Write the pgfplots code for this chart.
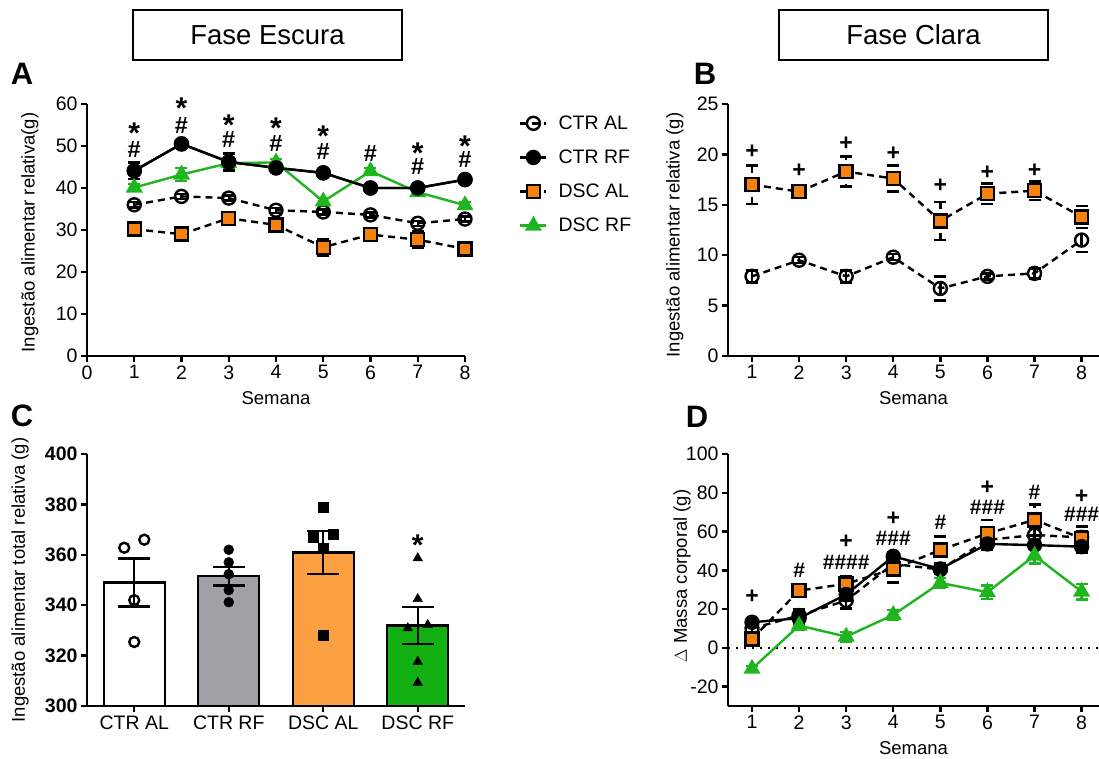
\documentclass[border=0pt]{standalone}
\usepackage{fontspec}
\setmainfont{Liberation Sans}
\usepackage{pgfplots}
\usepackage{pgfplotstable}
\pgfplotsset{compat=1.18}
\definecolor{myorange}{HTML}{F5820F}
\definecolor{barorange}{HTML}{FAA040}
\definecolor{mygreen}{HTML}{1FB51F}
\definecolor{bargreen}{HTML}{12B012}
\definecolor{bargray}{HTML}{A1A1A5}

\pgfplotstableread{
x ctral ctrale ctrrf ctrrfe dscal dscale dscrf dscrfe
1 36.0 0.6 44.1 2.0 30.2 0.8 40.1 0.8
2 38.0 0.6 50.5 0.8 29.0 0.8 43.2 1.5
3 37.6 0.6 46.2 2.0 32.8 1.5 45.9 1.2
4 34.7 0.6 44.8 0.8 31.2 1.2 46.1 0.8
5 34.3 0.6 43.6 0.8 25.9 2.0 36.8 0.8
6 33.6 0.6 40.0 0.8 28.9 0.8 44.0 0.8
7 31.6 0.6 40.0 0.8 27.7 2.0 39.0 0.8
8 32.6 0.6 42.0 0.8 25.5 0.8 35.9 0.8
}\tableA

\pgfplotstableread{
x ctral ctrale dscal dscale
1 7.9 0.6 17.0 1.9
2 9.5 0.3 16.3 0.4
3 7.9 0.6 18.3 1.5
4 9.8 0.3 17.6 1.3
5 6.7 1.2 13.4 1.9
6 7.9 0.3 16.1 1.0
7 8.2 0.5 16.4 0.9
8 11.5 1.2 13.8 1.1
}\tableB

\pgfplotstableread{
x ctral ctrale ctrrf ctrrfe dscal dscale dscrf dscrfe
1 10.0 2 13.2 2 4.6 3 -10.8 1.5
2 16.7 3 15.3 3 29.5 2 11.5 2
3 24.4 4 27.5 3 33.0 4 5.8 2.5
4 43.3 4 47.2 2 40.7 7 17.0 2.5
5 40.4 2 40.7 2 50.5 7 33.5 2.5
6 55.7 3 53.6 3 59.0 7 28.7 3.5
7 58.2 3 53.0 2 66.0 8 47.6 4
8 57.0 3 52.2 3 56.5 6 29.0 4
}\tableD

\newcommand{\st}{\raisebox{-0.43em}[0.29em][0pt]{*}}
\tikzset{
  ann/.style={font=\bfseries\fontsize{21}{24}\selectfont,anchor=center,inner sep=0pt},
  hashA/.style={font=\bfseries\fontsize{23.5}{24}\selectfont,anchor=center,inner sep=0pt},
  pls/.style={font=\bfseries\fontsize{23}{24}\selectfont,anchor=center,inner sep=0pt},
  star/.style={font=\bfseries\fontsize{30}{32}\selectfont,anchor=center,inner sep=0pt},
}
\pgfplotsset{
  base/.style={
    scale only axis,
    axis lines=left,
    axis line style={line width=2.4pt,-},
    tick align=outside,
    major tick length=6pt,
    every tick/.style={line width=2.4pt,black},
    tick label style={font=\fontsize{19.5}{22}\selectfont},
    label style={font=\fontsize{18.5}{22}\selectfont},
    /pgf/number format/assume math mode=true,
    clip=false,
    minor tick num=0,
  },
  eb/.style={error bars/.cd, y dir=both, y explicit,
    error bar style={line width=2.4pt,#1},
    error mark options={rotate=90,mark size=6pt,line width=2.4pt,#1}},
  ctral/.style={black,line width=2.4pt,dash pattern=on 7pt off 5pt,mark=o,mark size=6.5pt,mark options={solid,fill=white,line width=2.4pt}},
  ctrrf/.style={black,line width=2.4pt,mark=*,mark size=6.5pt,mark options={solid,fill=black}},
  dscal/.style={black,line width=2.4pt,dash pattern=on 7pt off 5pt,mark=square*,mark size=6.5pt,mark options={solid,fill=myorange,draw=black,line width=2.4pt}},
  dscrf/.style={mygreen,line width=2.4pt,mark=triangle*,mark size=7.5pt,mark options={solid,fill=mygreen,draw=mygreen}},
}

\begin{document}
\begin{tikzpicture}[x=1pt,y=1pt]
\path[use as bounding box] (0,0) rectangle (1099,758);

% titles
\node[draw,line width=2.2pt,minimum width=269pt,minimum height=50pt,inner sep=0pt,font=\fontsize{27.5}{30}\selectfont] at (267.5,723) {Fase Escura};
\node[draw,line width=2.2pt,minimum width=269pt,minimum height=50pt,inner sep=0pt,font=\fontsize{27.5}{30}\selectfont] at (913.5,723) {Fase Clara};
\node[font=\bfseries\fontsize{31}{34}\selectfont] at (22,684) {A};
\node[font=\bfseries\fontsize{31}{34}\selectfont] at (705,684) {B};
\node[font=\bfseries\fontsize{31}{34}\selectfont] at (22,342) {C};
\node[font=\bfseries\fontsize{31}{34}\selectfont] at (697,341) {D};

% ---------------- A
\begin{axis}[base, at={(87pt,402pt)}, anchor=south west,
  width=378pt, height=252pt,
  xmin=0, xmax=8, ymin=0, ymax=60,
  xtick={0,...,8}, ytick={0,10,...,60},
  xlabel={Semana}, ylabel={Ingestão alimentar relativa(g)},
  xlabel style={at={(axis description cs:0.5,-0.167)},anchor=center},
  ylabel style={at={(axis description cs:-0.151,0.49)},anchor=center},
  legend style={at={(axis description cs:1.135,0.97)},anchor=north west,draw=none,fill=none,
    font=\fontsize{19.5}{22}\selectfont,row sep=15pt,column sep=9pt},
  legend cell align=left,
  legend image code/.code={\draw[mark repeat=2,mark phase=2] plot coordinates {(0pt,0pt) (13pt,0pt) (26pt,0pt)};},
]
\addplot[ctral, eb=black] table[x=x,y=ctral,y error=ctrale] {\tableA};
\addlegendentry{CTR AL}
\addplot[ctrrf, eb=black] table[x=x,y=ctrrf,y error=ctrrfe] {\tableA};
\addlegendentry{CTR RF}
\addplot[dscal, eb=black] table[x=x,y=dscal,y error=dscale] {\tableA};
\addlegendentry{DSC AL}
\addplot[dscrf, eb=mygreen] table[x=x,y=dscrf,y error=dscrfe] {\tableA};
\addlegendentry{DSC RF}
\addplot[ctrrf, forget plot] table[x=x,y=ctrrf] {\tableA};
% annotations
\node[star] at (axis cs:1,54.6) {\st};
\node[hashA] at (axis cs:1,49.1) {\#};
\node[star] at (axis cs:2,60.7) {\st};
\node[hashA] at (axis cs:2,54.9) {\#};
\node[star] at (axis cs:3,56.7) {\st};
\node[hashA] at (axis cs:3,51.5) {\#};
\node[star] at (axis cs:4,56.0) {\st};
\node[hashA] at (axis cs:4,50.7) {\#};
\node[star] at (axis cs:5,54.0) {\st};
\node[hashA] at (axis cs:5,48.7) {\#};
\node[hashA] at (axis cs:6,48.3) {\#};
\node[star] at (axis cs:7,50.0) {\st};
\node[hashA] at (axis cs:7,45.2) {\#};
\node[star] at (axis cs:8,51.6) {\st};
\node[hashA] at (axis cs:8,46.9) {\#};
\end{axis}

% ---------------- B
\begin{axis}[base, at={(728pt,402pt)}, anchor=south west,
  width=371pt, height=252pt,
  xmin=0.49, xmax=8.37, ymin=0, ymax=25,
  xtick={1,...,8}, ytick={0,5,...,25},
  xlabel={Semana}, ylabel={Ingestão alimentar relativa (g)},
  xlabel style={at={(axis description cs:0.5,-0.167)},anchor=center},
  ylabel style={at={(axis description cs:-0.143,0.48)},anchor=center},
]
\addplot[ctral, eb=black] table[x=x,y=ctral,y error=ctrale] {\tableB};
\addplot[dscal, eb=black] table[x=x,y=dscal,y error=dscale] {\tableB};
\node[pls] at (axis cs:1,20.3) {+};
\node[pls] at (axis cs:2,18.4) {+};
\node[pls] at (axis cs:3,21.1) {+};
\node[pls] at (axis cs:4,20.1) {+};
\node[pls] at (axis cs:5,16.9) {+};
\node[pls] at (axis cs:6,18.2) {+};
\node[pls] at (axis cs:7,18.4) {+};
\end{axis}

% ---------------- C
\begin{axis}[base, clip=true, at={(87pt,52pt)}, anchor=south west,
  width=378pt, height=252pt,
  xmin=-0.5, xmax=3.5, ymin=300, ymax=400,
  xtick={0,1,2,3}, xticklabels={CTR AL,CTR RF,DSC AL,DSC RF},
  ytick={300,320,...,400},
  yticklabel style={font=\bfseries\fontsize{19.5}{22}\selectfont},
  ylabel={Ingestão alimentar total relativa (g)},
  ylabel style={at={(axis description cs:-0.177,0.5)},anchor=center},
  error bars/error mark options={rotate=90,mark size=16pt,line width=2.4pt},
  error bars/error bar style={line width=2.4pt},
]
\addplot[ybar, bar width=61pt, bar shift=0pt, fill=white, draw=black, line width=2.4pt,
  error bars/.cd, y dir=both, y explicit] coordinates {(0,349) +- (0,9.5)};
\addplot[ybar, bar width=61pt, bar shift=0pt, fill=bargray, draw=black, line width=2.4pt,
  error bars/.cd, y dir=both, y explicit] coordinates {(1,351.5) +- (0,3.7)};
\addplot[ybar, bar width=61pt, bar shift=0pt, fill=barorange, draw=black, line width=2.4pt,
  error bars/.cd, y dir=both, y explicit] coordinates {(2,360.9) +- (0,8.6)};
\addplot[ybar, bar width=61pt, bar shift=0pt, fill=bargreen, draw=black, line width=2.4pt,
  error bars/.cd, y dir=both, y explicit] coordinates {(3,331.9) +- (0,7.3)};
\addplot[only marks, mark=o, mark size=5pt, mark options={fill=white,line width=2.4pt}, black]
  coordinates {(-0.106,362.8) (0.106,366.0) (0,342.0) (0,325.4)};
\addplot[only marks, mark=*, mark size=5pt, black]
  coordinates {(1,362) (1,357) (1,352.3) (1,346) (1,341.2)};
\addplot[only marks, mark=square*, mark size=5pt, black]
  coordinates {(2,378.8) (1.894,366.9) (2.106,368.0) (2,362.6) (2,328.0)};
\addplot[only marks, mark=triangle*, mark size=5.5pt, black]
  coordinates {(3,358.7) (3,342.5) (2.894,330.9) (3.106,332.2) (3,317.6) (3,309.3)};
\node[star] at (axis cs:3,366.6) {\st};
\end{axis}

% ---------------- D
\begin{axis}[base, at={(728pt,52pt)}, anchor=south west,
  width=371pt, height=252pt,
  xmin=0.49, xmax=8.37, ymin=-30, ymax=100,
  xtick={1,...,8}, ytick={-20,0,...,100},
  xlabel={Semana}, ylabel={$\Delta$ Massa corporal (g)},
  xlabel style={at={(axis description cs:0.5,-0.167)},anchor=center},
  ylabel style={at={(axis description cs:-0.124,0.516)},anchor=center},
]
\addplot[black,line width=2.4pt,dash pattern=on 2pt off 6pt] coordinates {(0.49,0) (8.37,0)};
\addplot[ctral, eb=black] table[x=x,y=ctral,y error=ctrale] {\tableD};
\addplot[dscal, eb=black] table[x=x,y=dscal,y error=dscale] {\tableD};
\addplot[ctrrf, eb=black] table[x=x,y=ctrrf,y error=ctrrfe] {\tableD};
\addplot[dscrf, eb=mygreen] table[x=x,y=dscrf,y error=dscrfe] {\tableD};
\node[pls] at (axis cs:1,26.6) {+};
\node[ann] at (axis cs:2,39.9) {\#};
\node[pls] at (axis cs:3,54.5) {+};
\node[ann] at (axis cs:3,44.2) {\#\#\#\#};
\node[pls] at (axis cs:4,66.8) {+};
\node[ann] at (axis cs:4,56.5) {\#\#\#};
\node[ann] at (axis cs:5,64.8) {\#};
\node[pls] at (axis cs:6,82.8) {+};
\node[ann] at (axis cs:6,72.5) {\#\#\#};
\node[ann] at (axis cs:7,80.2) {\#};
\node[pls] at (axis cs:8,78) {+};
\node[ann] at (axis cs:8,68.7) {\#\#\#};
\end{axis}
\end{tikzpicture}
\end{document}
